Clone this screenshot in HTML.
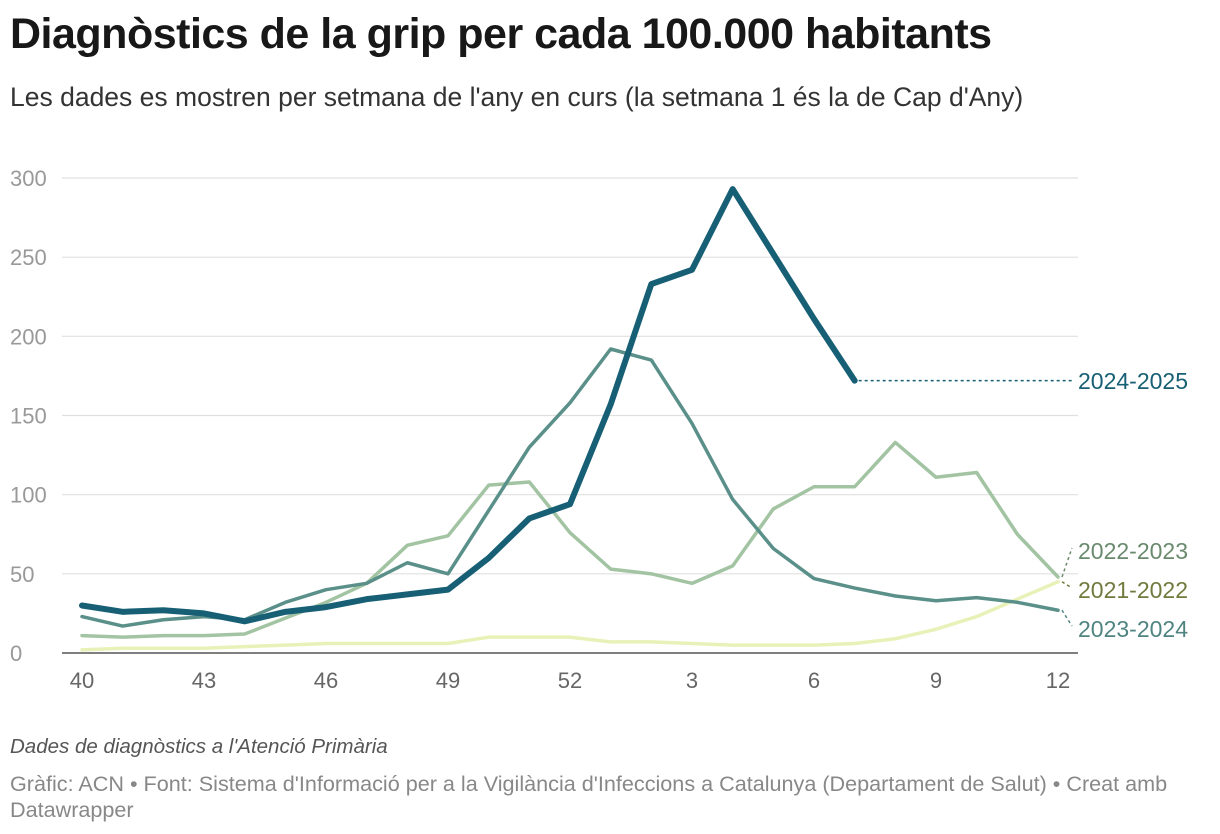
<!DOCTYPE html>
<html><head><meta charset="utf-8"><style>
body{margin:0;width:1220px;height:834px;background:#fff;font-family:"Liberation Sans",sans-serif;overflow:hidden;position:relative}
h1{position:absolute;left:10px;top:10px;margin:0;font-size:43px;font-weight:bold;color:#181818;letter-spacing:-0.5px}
.sub{position:absolute;left:10px;top:82px;font-size:26.5px;color:#333}
.note{position:absolute;left:10px;top:735px;font-size:20.5px;font-style:italic;color:#555}
.src{position:absolute;left:10px;top:771px;font-size:21.6px;color:#888;width:1190px;line-height:26px}
svg{position:absolute;left:0;top:0}
</style></head><body>
<h1>Diagnòstics de la grip per cada 100.000 habitants</h1>
<div class="sub">Les dades es mostren per setmana de l'any en curs (la setmana 1 és la de Cap d'Any)</div>
<svg id="c" width="1220" height="834"></svg>
<div class="note">Dades de diagnòstics a l'Atenció Primària</div>
<div class="src">Gràfic: ACN • Font: Sistema d'Informació per a la Vigilància d'Infeccions a Catalunya (Departament de Salut) • Creat amb Datawrapper</div>
<script>
const weeks=[40,41,42,43,44,45,46,47,48,49,50,51,52,1,2,3,4,5,6,7,8,9,10,11,12];
const xTicks=[40,43,46,49,52,3,6,9,12];
const yTicks=[0,50,100,150,200,250,300];
const s2425=[30,26,27,25,20,26,29,34,37,40,60,85,94,157,233,242,293,252,211,172];
const s2324=[23,17,21,23,21,32,40,44,57,50,90,130,158,192,185,145,97,66,47,41,36,33,35,32,27];
const s2223=[11,10,11,11,12,22,32,44,68,74,106,108,76,53,50,44,55,91,105,105,133,111,114,75,48];
const s2122=[2,3,3,3,4,5,6,6,6,6,10,10,10,7,7,6,5,5,5,6,9,15,23,34,45];
const svg=document.getElementById('c'),NS='http://www.w3.org/2000/svg';
const X=i=>82+i*(1058-82)/(weeks.length-1);
const Y=v=>653-v*(653-178)/300;
function mk(t,a){const e=document.createElementNS(NS,t);for(const k in a)e.setAttribute(k,a[k]);svg.appendChild(e);return e;}
yTicks.forEach(v=>{
 const l=mk('line',{x1:62,x2:1078,y1:Y(v),y2:Y(v),stroke:v?'#e0e0e0':'#333','stroke-width':1.2});
 
 
 const t=mk('text',{x:10,y:Y(v)+8,'font-size':22,fill:'#999'});t.textContent=v;
 
 
});
xTicks.forEach(w=>{
 const i=weeks.indexOf(w);
 const t=mk('text',{x:X(i),y:688,'font-size':22,fill:'#666','text-anchor':'middle'});t.textContent=w;
 
 
});
function line(d,c,w,n){
 const p=mk('polyline',{points:d.map((v,i)=>X(i)+','+Y(v)).join(' '),fill:'none',stroke:c,'stroke-width':w,'stroke-linejoin':'round','stroke-linecap':'round'});
 
 
}
line(s2122,'#e8f2b8',3.5,'line-2021-2022');
line(s2223,'#a3c4a3',3.5,'line-2022-2023');
line(s2324,'#5a9089',3.5,'line-2023-2024');
line(s2425,'#175f74',6,'line-2024-2025');
function lab(txt,ly,c,sv,ey,n){
 const lx=X(sv.length-1),vy=Y(sv[sv.length-1]);
 const d=mk('line',{x1:lx+4,y1:vy,x2:1072,y2:ey,stroke:c,'stroke-width':1.5,'stroke-dasharray':'3,3'});
 
 
 const t=mk('text',{x:1078,y:ly,'font-size':23,fill:c});t.textContent=txt;
 
 
}
lab('2024-2025',389,'#175f74',s2425,Y(s2425[s2425.length-1]),'label-2024-2025');
lab('2022-2023',559,'#6a8a6e',s2223,548,'label-2022-2023');
lab('2021-2022',598,'#717a3e',s2122,588,'label-2021-2022');
lab('2023-2024',637,'#4f8480',s2324,626,'label-2023-2024');
</script>
</body></html>
